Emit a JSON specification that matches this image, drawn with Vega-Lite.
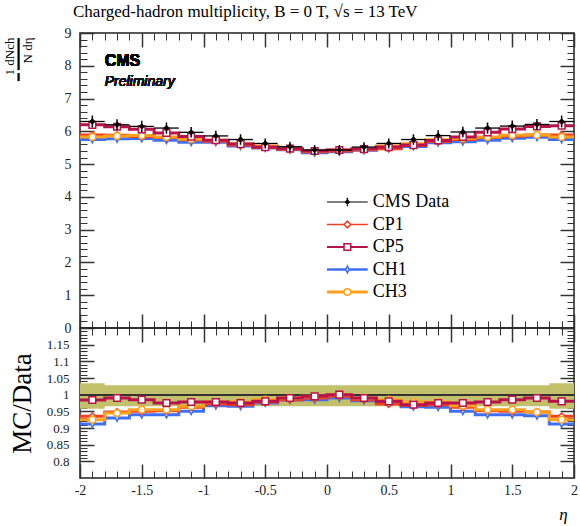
{
  "$schema": "https://vega.github.io/schema/vega-lite/v6.json",
  "background": "white",
  "padding": {"left": 2, "top": 2, "right": 12, "bottom": 5},
  "config": {
    "view": {"stroke": "#222", "strokeWidth": 1.5},
    "axis": {"domain": false, "grid": false, "labelFont": "Liberation Serif", "labelFontSize": 13, "labelColor": "#222", "tickColor": "#333", "titleFont": "Liberation Serif", "titleFontWeight": "normal", "titleColor": "#000", "labelFlush": false, "labelOverlap": false}
  },
  "datasets": {
    "main": [
      {"lo": -2.0, "hi": -1.8, "eta": -1.9, "d": 6.30, "dlo": 6.12, "dhi": 6.48, "CP1": 5.89, "CP5": 6.20, "CH1": 5.75, "CH3": 5.83},
      {"lo": -1.8, "hi": -1.6, "eta": -1.7, "d": 6.20, "dlo": 6.03, "dhi": 6.37, "CP1": 5.88, "CP5": 6.14, "CH1": 5.77, "CH3": 5.86},
      {"lo": -1.6, "hi": -1.4, "eta": -1.5, "d": 6.15, "dlo": 5.98, "dhi": 6.32, "CP1": 5.84, "CP5": 6.06, "CH1": 5.78, "CH3": 5.87},
      {"lo": -1.4, "hi": -1.2, "eta": -1.3, "d": 6.10, "dlo": 5.93, "dhi": 6.27, "CP1": 5.81, "CP5": 5.95, "CH1": 5.73, "CH3": 5.83},
      {"lo": -1.2, "hi": -1.0, "eta": -1.1, "d": 5.97, "dlo": 5.81, "dhi": 6.13, "CP1": 5.74, "CP5": 5.84, "CH1": 5.67, "CH3": 5.76},
      {"lo": -1.0, "hi": -0.8, "eta": -0.9, "d": 5.86, "dlo": 5.70, "dhi": 6.02, "CP1": 5.70, "CP5": 5.73, "CH1": 5.67, "CH3": 5.73},
      {"lo": -0.8, "hi": -0.6, "eta": -0.7, "d": 5.75, "dlo": 5.59, "dhi": 5.91, "CP1": 5.58, "CP5": 5.61, "CH1": 5.55, "CH3": 5.62},
      {"lo": -0.6, "hi": -0.4, "eta": -0.5, "d": 5.63, "dlo": 5.48, "dhi": 5.78, "CP1": 5.51, "CP5": 5.52, "CH1": 5.49, "CH3": 5.55},
      {"lo": -0.4, "hi": -0.2, "eta": -0.3, "d": 5.53, "dlo": 5.38, "dhi": 5.68, "CP1": 5.45, "CP5": 5.47, "CH1": 5.44, "CH3": 5.47},
      {"lo": -0.2, "hi": 0.0, "eta": -0.1, "d": 5.43, "dlo": 5.28, "dhi": 5.58, "CP1": 5.38, "CP5": 5.40, "CH1": 5.35, "CH3": 5.40},
      {"lo": 0.0, "hi": 0.2, "eta": 0.1, "d": 5.43, "dlo": 5.28, "dhi": 5.58, "CP1": 5.40, "CP5": 5.43, "CH1": 5.38, "CH3": 5.43},
      {"lo": 0.2, "hi": 0.4, "eta": 0.3, "d": 5.52, "dlo": 5.37, "dhi": 5.67, "CP1": 5.44, "CP5": 5.46, "CH1": 5.42, "CH3": 5.46},
      {"lo": 0.4, "hi": 0.6, "eta": 0.5, "d": 5.63, "dlo": 5.48, "dhi": 5.78, "CP1": 5.47, "CP5": 5.52, "CH1": 5.49, "CH3": 5.55},
      {"lo": 0.6, "hi": 0.8, "eta": 0.7, "d": 5.75, "dlo": 5.59, "dhi": 5.91, "CP1": 5.57, "CP5": 5.58, "CH1": 5.54, "CH3": 5.62},
      {"lo": 0.8, "hi": 1.0, "eta": 0.9, "d": 5.87, "dlo": 5.71, "dhi": 6.03, "CP1": 5.69, "CP5": 5.72, "CH1": 5.65, "CH3": 5.74},
      {"lo": 1.0, "hi": 1.2, "eta": 1.1, "d": 5.98, "dlo": 5.82, "dhi": 6.14, "CP1": 5.75, "CP5": 5.83, "CH1": 5.68, "CH3": 5.78},
      {"lo": 1.2, "hi": 1.4, "eta": 1.3, "d": 6.10, "dlo": 5.93, "dhi": 6.27, "CP1": 5.81, "CP5": 5.97, "CH1": 5.73, "CH3": 5.83},
      {"lo": 1.4, "hi": 1.6, "eta": 1.5, "d": 6.16, "dlo": 5.99, "dhi": 6.33, "CP1": 5.85, "CP5": 6.07, "CH1": 5.79, "CH3": 5.88},
      {"lo": 1.6, "hi": 1.8, "eta": 1.7, "d": 6.21, "dlo": 6.04, "dhi": 6.38, "CP1": 5.89, "CP5": 6.15, "CH1": 5.82, "CH3": 5.89},
      {"lo": 1.8, "hi": 2.0, "eta": 1.9, "d": 6.30, "dlo": 6.12, "dhi": 6.48, "CP1": 5.89, "CP5": 6.17, "CH1": 5.75, "CH3": 5.83},
      {"lo": 2.0, "CP1": 5.89, "CP5": 6.17, "CH1": 5.75, "CH3": 5.83}
    ],
    "ratio": [
      {"lo": -2.0, "eta": -1.9, "blo": 0.958, "bhi": 1.034, "CP1": 0.935, "CP5": 0.984, "CH1": 0.912, "CH3": 0.925},
      {"lo": -1.8, "eta": -1.7, "blo": 0.965, "bhi": 1.028, "CP1": 0.948, "CP5": 0.990, "CH1": 0.930, "CH3": 0.945},
      {"lo": -1.6, "eta": -1.5, "blo": 0.965, "bhi": 1.028, "CP1": 0.950, "CP5": 0.985, "CH1": 0.940, "CH3": 0.955},
      {"lo": -1.4, "eta": -1.3, "blo": 0.965, "bhi": 1.028, "CP1": 0.952, "CP5": 0.975, "CH1": 0.940, "CH3": 0.955},
      {"lo": -1.2, "eta": -1.1, "blo": 0.965, "bhi": 1.028, "CP1": 0.962, "CP5": 0.978, "CH1": 0.950, "CH3": 0.965},
      {"lo": -1.0, "eta": -0.9, "blo": 0.965, "bhi": 1.028, "CP1": 0.972, "CP5": 0.978, "CH1": 0.967, "CH3": 0.978},
      {"lo": -0.8, "eta": -0.7, "blo": 0.965, "bhi": 1.028, "CP1": 0.970, "CP5": 0.975, "CH1": 0.965, "CH3": 0.978},
      {"lo": -0.6, "eta": -0.5, "blo": 0.965, "bhi": 1.028, "CP1": 0.978, "CP5": 0.980, "CH1": 0.975, "CH3": 0.985},
      {"lo": -0.4, "eta": -0.3, "blo": 0.965, "bhi": 1.028, "CP1": 0.985, "CP5": 0.990, "CH1": 0.984, "CH3": 0.990},
      {"lo": -0.2, "eta": -0.1, "blo": 0.965, "bhi": 1.028, "CP1": 0.990, "CP5": 0.995, "CH1": 0.985, "CH3": 0.995},
      {"lo": 0.0, "eta": 0.1, "blo": 0.965, "bhi": 1.028, "CP1": 0.995, "CP5": 1.000, "CH1": 0.990, "CH3": 1.000},
      {"lo": 0.2, "eta": 0.3, "blo": 0.965, "bhi": 1.028, "CP1": 0.985, "CP5": 0.990, "CH1": 0.982, "CH3": 0.990},
      {"lo": 0.4, "eta": 0.5, "blo": 0.965, "bhi": 1.028, "CP1": 0.972, "CP5": 0.980, "CH1": 0.975, "CH3": 0.985},
      {"lo": 0.6, "eta": 0.7, "blo": 0.965, "bhi": 1.028, "CP1": 0.968, "CP5": 0.970, "CH1": 0.964, "CH3": 0.978},
      {"lo": 0.8, "eta": 0.9, "blo": 0.965, "bhi": 1.028, "CP1": 0.970, "CP5": 0.975, "CH1": 0.962, "CH3": 0.978},
      {"lo": 1.0, "eta": 1.1, "blo": 0.965, "bhi": 1.028, "CP1": 0.962, "CP5": 0.975, "CH1": 0.950, "CH3": 0.967},
      {"lo": 1.2, "eta": 1.3, "blo": 0.965, "bhi": 1.028, "CP1": 0.952, "CP5": 0.978, "CH1": 0.940, "CH3": 0.955},
      {"lo": 1.4, "eta": 1.5, "blo": 0.965, "bhi": 1.028, "CP1": 0.950, "CP5": 0.985, "CH1": 0.940, "CH3": 0.955},
      {"lo": 1.6, "eta": 1.7, "blo": 0.965, "bhi": 1.028, "CP1": 0.948, "CP5": 0.990, "CH1": 0.937, "CH3": 0.948},
      {"lo": 1.8, "eta": 1.9, "blo": 0.958, "bhi": 1.034, "CP1": 0.935, "CP5": 0.980, "CH1": 0.912, "CH3": 0.925},
      {"lo": 2.0, "blo": 0.958, "bhi": 1.034, "CP1": 0.935, "CP5": 0.980, "CH1": 0.912, "CH3": 0.925}
    ],
    "legend": [
      {"series": "CMS Data"}, {"series": "CP1"}, {"series": "CP5"}, {"series": "CH1"}, {"series": "CH3"}
    ]
  },
  "spacing": 0,
  "bounds": "flush",
  "vconcat": [
    {
      "width": 494,
      "height": 295,
      "title": {"text": "Charged-hadron multiplicity, B = 0 T, √s = 13 TeV", "anchor": "start", "frame": "group", "dx": -7, "font": "Liberation Serif", "fontSize": 17, "fontWeight": "normal", "color": "#000", "baseline": "alphabetic", "offset": -8},
      "layer": [
        {
          "data": {"name": "main"},
          "layer": [
            {
              "transform": [{"fold": ["CH1", "CP1", "CH3", "CP5"], "as": ["series", "val"]}],
              "mark": {"type": "line", "interpolate": "step-after", "strokeWidth": 3},
              "encoding": {
                "x": {"field": "lo", "type": "quantitative", "scale": {"domain": [-2, 2]}, "axis": {"orient": "bottom", "values": [-2, -1.5, -1, -0.5, 0, 0.5, 1, 1.5, 2], "tickSize": -14, "tickWidth": 1.5, "labels": false, "title": null}},
                "y": {"field": "val", "type": "quantitative", "scale": {"domain": [0, 9]}, "axis": {"orient": "left", "values": [0, 1, 2, 3, 4, 5, 6, 7, 8, 9], "format": "d", "tickSize": -14, "tickWidth": 1.5, "labelPadding": 23, "labelFontSize": 14, "title": ["1   dNch", "━  ━━━━", "N       dη"], "titleFontSize": 13, "titleLineHeight": 9, "titleX": -67, "titleY": 4, "titleAnchor": "end", "titleBaseline": "alphabetic"}},
                "stroke": {"field": "series", "type": "nominal", "scale": {"domain": ["CMS Data", "CP1", "CP5", "CH1", "CH3"], "range": ["#000000", "#f0401f", "#b8124a", "#3f6ff2", "#ffa01c"]}, "legend": null}
              }
            },
            {
              "transform": [{"filter": "isValid(datum.eta)"}, {"fold": ["CH1", "CP1", "CH3", "CP5"], "as": ["series", "val"]}],
              "mark": {"type": "point", "filled": true, "fill": "white", "strokeWidth": 1.5, "size": 45, "opacity": 1},
              "encoding": {
                "x": {"field": "eta", "type": "quantitative", "axis": {"orient": "bottom", "values": [-2,-1.9,-1.8,-1.7,-1.6,-1.5,-1.4,-1.3,-1.2,-1.1,-1,-0.9,-0.8,-0.7,-0.6,-0.5,-0.4,-0.3,-0.2,-0.1,0,0.1,0.2,0.3,0.4,0.5,0.6,0.7,0.8,0.9,1,1.1,1.2,1.3,1.4,1.5,1.6,1.7,1.8,1.9,2], "tickSize": -7, "labels": false, "title": null}},
                "y": {"field": "val", "type": "quantitative", "axis": {"orient": "left", "values": [0,0.2,0.4,0.6,0.8,1,1.2,1.4,1.6,1.8,2,2.2,2.4,2.6,2.8,3,3.2,3.4,3.6,3.8,4,4.2,4.4,4.6,4.8,5,5.2,5.4,5.6,5.8,6,6.2,6.4,6.6,6.8,7,7.2,7.4,7.6,7.8,8,8.2,8.4,8.6,8.8,9], "tickSize": -7, "labels": false, "title": null}},
                "stroke": {"field": "series", "type": "nominal", "legend": null},
                "shape": {"field": "series", "type": "nominal", "scale": {"domain": ["CMS Data", "CP1", "CP5", "CH1", "CH3"], "range": ["M0,-1.3V1.3M-0.5,0L0,-0.55L0.5,0L0,0.55Z", "diamond", "square", "M0,-1L0.5,0L0,1L-0.5,0Z", "circle"]}, "legend": null}
              }
            },
            {
              "transform": [{"filter": "isValid(datum.eta)"}],
              "mark": {"type": "rule", "color": "#000", "strokeWidth": 1.3},
              "encoding": {
                "x": {"field": "lo", "type": "quantitative", "axis": {"orient": "top", "values": [-2, -1.5, -1, -0.5, 0, 0.5, 1, 1.5, 2], "tickSize": -14, "tickWidth": 1.5, "labels": false, "title": null}},
                "x2": {"field": "hi"},
                "y": {"field": "d", "type": "quantitative", "axis": {"orient": "right", "values": [0, 1, 2, 3, 4, 5, 6, 7, 8, 9], "tickSize": -14, "tickWidth": 1.5, "labels": false, "title": null}}
              }
            },
            {
              "transform": [{"filter": "isValid(datum.eta)"}],
              "mark": {"type": "rule", "color": "#000", "strokeWidth": 1.5},
              "encoding": {
                "x": {"field": "eta", "type": "quantitative", "axis": {"orient": "top", "values": [-2,-1.9,-1.8,-1.7,-1.6,-1.5,-1.4,-1.3,-1.2,-1.1,-1,-0.9,-0.8,-0.7,-0.6,-0.5,-0.4,-0.3,-0.2,-0.1,0,0.1,0.2,0.3,0.4,0.5,0.6,0.7,0.8,0.9,1,1.1,1.2,1.3,1.4,1.5,1.6,1.7,1.8,1.9,2], "tickSize": -7, "labels": false, "title": null}},
                "y": {"field": "dlo", "type": "quantitative", "axis": {"orient": "right", "values": [0,0.2,0.4,0.6,0.8,1,1.2,1.4,1.6,1.8,2,2.2,2.4,2.6,2.8,3,3.2,3.4,3.6,3.8,4,4.2,4.4,4.6,4.8,5,5.2,5.4,5.6,5.8,6,6.2,6.4,6.6,6.8,7,7.2,7.4,7.6,7.8,8,8.2,8.4,8.6,8.8,9], "tickSize": -7, "labels": false, "title": null}},
                "y2": {"field": "dhi"}
              }
            },
            {
              "transform": [{"filter": "isValid(datum.eta)"}],
              "mark": {"type": "point", "shape": "diamond", "filled": true, "color": "#000", "size": 40, "opacity": 1},
              "encoding": {
                "x": {"field": "eta", "type": "quantitative", "axis": null},
                "y": {"field": "d", "type": "quantitative", "axis": null}
              }
            },
            {
              "mark": {"type": "text", "text": "CMS", "align": "left", "baseline": "alphabetic", "font": "Liberation Sans", "fontWeight": "bold", "fontSize": 16, "color": "#000"},
              "encoding": {
                "x": {"datum": -1.8, "axis": null},
                "y": {"datum": 7.98, "axis": null}
              }
            },
            {
              "mark": {"type": "text", "text": "Preliminary", "align": "left", "baseline": "alphabetic", "font": "Liberation Sans", "fontStyle": "italic", "fontWeight": "normal", "fontSize": 14, "color": "#111"},
              "encoding": {
                "x": {"datum": -1.8, "axis": null},
                "y": {"datum": 7.39, "axis": null}
              }
            }
          ],
          "resolve": {"axis": {"x": "independent", "y": "independent"}}
        },
        {
          "data": {"name": "legend"},
          "encoding": {
            "y": {"field": "series", "type": "nominal", "scale": {"type": "point", "domain": ["CMS Data", "CP1", "CP5", "CH1", "CH3"], "range": [169, 259], "padding": 0}, "axis": null}
          },
          "layer": [
            {
              "mark": {"type": "rule"},
              "encoding": {
                "x": {"datum": 0.0, "axis": null},
                "x2": {"datum": 0.33},
                "stroke": {"field": "series", "type": "nominal", "legend": null},
                "strokeWidth": {"field": "series", "type": "ordinal", "scale": {"domain": ["CMS Data", "CP1", "CP5", "CH1", "CH3"], "range": [1.2, 3, 3, 3, 3]}, "legend": null}
              }
            },
            {
              "mark": {"type": "point", "filled": true, "strokeWidth": 1.5, "size": 45, "opacity": 1},
              "encoding": {
                "x": {"datum": 0.165, "axis": null},
                "stroke": {"field": "series", "type": "nominal", "legend": null},
                "shape": {"field": "series", "type": "nominal", "legend": null},
                "fill": {"field": "series", "type": "nominal", "scale": {"domain": ["CMS Data", "CP1", "CP5", "CH1", "CH3"], "range": ["#000000", "#ffffff", "#ffffff", "#ffffff", "#ffffff"]}, "legend": null}
              }
            },
            {
              "mark": {"type": "text", "align": "left", "baseline": "middle", "font": "Liberation Serif", "fontSize": 18, "color": "#000"},
              "encoding": {
                "x": {"datum": 0.37, "axis": null},
                "text": {"field": "series"}
              }
            }
          ]
        }
      ],
      "resolve": {"scale": {"y": "independent"}, "axis": {"x": "independent", "y": "independent"}}
    },
    {
      "width": 494,
      "height": 150,
      "data": {"name": "ratio"},
      "layer": [
        {
          "mark": {"type": "area", "interpolate": "step-after", "color": "#c3c06b", "opacity": 1},
          "encoding": {
            "x": {"field": "lo", "type": "quantitative", "scale": {"domain": [-2, 2]}, "axis": {"orient": "bottom", "values": [-2, -1.5, -1, -0.5, 0, 0.5, 1, 1.5, 2], "labelExpr": "replace(format(datum.value, '.1~f'), '\u2212', '-')", "tickSize": -14, "tickWidth": 1.5, "labelPadding": 19, "labelFontSize": 14, "title": "η", "titleFontStyle": "italic", "titleFontSize": 17, "titleX": 483, "titleY": 41, "titleAlign": "center", "titleBaseline": "alphabetic"}},
            "y": {"field": "blo", "type": "quantitative", "scale": {"domain": [0.793, 1.2]}, "axis": {"orient": "left", "values": [0.8, 0.85, 0.9, 0.95, 1, 1.05, 1.1, 1.15], "format": ".2~f", "tickSize": -14, "tickWidth": 1.5, "labelPadding": 25, "labelFontSize": 13, "title": "MC/Data", "titleFontSize": 27, "titleX": -50, "titleBaseline": "alphabetic"}},
            "y2": {"field": "bhi"}
          }
        },
        {
          "mark": {"type": "rule", "color": "#333", "strokeWidth": 1},
          "encoding": {
            "x": {"datum": -2, "axis": {"orient": "top", "values": [-2,-1.9,-1.8,-1.7,-1.6,-1.5,-1.4,-1.3,-1.2,-1.1,-1,-0.9,-0.8,-0.7,-0.6,-0.5,-0.4,-0.3,-0.2,-0.1,0,0.1,0.2,0.3,0.4,0.5,0.6,0.7,0.8,0.9,1,1.1,1.2,1.3,1.4,1.5,1.6,1.7,1.8,1.9,2], "tickSize": -7, "labels": false, "title": null}},
            "x2": {"datum": 2},
            "y": {"datum": 1, "axis": {"orient": "right", "values": [0.8,0.81,0.82,0.83,0.84,0.85,0.86,0.87,0.88,0.89,0.9,0.91,0.92,0.93,0.94,0.95,0.96,0.97,0.98,0.99,1,1.01,1.02,1.03,1.04,1.05,1.06,1.07,1.08,1.09,1.1,1.11,1.12,1.13,1.14,1.15,1.16,1.17,1.18,1.19,1.2], "tickSize": -7, "labels": false, "title": null}}
          }
        },
        {
          "transform": [{"fold": ["CH1", "CP1", "CH3", "CP5"], "as": ["series", "val"]}],
          "mark": {"type": "line", "interpolate": "step-after", "strokeWidth": 3},
          "encoding": {
            "x": {"field": "lo", "type": "quantitative", "axis": {"orient": "bottom", "values": [-2,-1.9,-1.8,-1.7,-1.6,-1.5,-1.4,-1.3,-1.2,-1.1,-1,-0.9,-0.8,-0.7,-0.6,-0.5,-0.4,-0.3,-0.2,-0.1,0,0.1,0.2,0.3,0.4,0.5,0.6,0.7,0.8,0.9,1,1.1,1.2,1.3,1.4,1.5,1.6,1.7,1.8,1.9,2], "tickSize": -7, "labels": false, "title": null}},
            "y": {"field": "val", "type": "quantitative", "axis": {"orient": "left", "values": [0.8,0.81,0.82,0.83,0.84,0.85,0.86,0.87,0.88,0.89,0.9,0.91,0.92,0.93,0.94,0.95,0.96,0.97,0.98,0.99,1,1.01,1.02,1.03,1.04,1.05,1.06,1.07,1.08,1.09,1.1,1.11,1.12,1.13,1.14,1.15,1.16,1.17,1.18,1.19,1.2], "tickSize": -7, "labels": false, "title": null}},
            "stroke": {"field": "series", "type": "nominal", "legend": null}
          }
        },
        {
          "transform": [{"filter": "isValid(datum.eta)"}, {"fold": ["CH1", "CP1", "CH3", "CP5"], "as": ["series", "val"]}],
          "mark": {"type": "point", "filled": true, "fill": "white", "strokeWidth": 1.5, "size": 45, "opacity": 1},
          "encoding": {
            "x": {"field": "eta", "type": "quantitative", "axis": {"orient": "top", "values": [-2, -1.5, -1, -0.5, 0, 0.5, 1, 1.5, 2], "tickSize": -14, "tickWidth": 1.5, "labels": false, "title": null}},
            "y": {"field": "val", "type": "quantitative", "axis": {"orient": "right", "values": [0.8, 0.85, 0.9, 0.95, 1, 1.05, 1.1, 1.15, 1.2], "tickSize": -14, "tickWidth": 1.5, "labels": false, "title": null}},
            "stroke": {"field": "series", "type": "nominal", "legend": null},
            "shape": {"field": "series", "type": "nominal", "legend": null}
          }
        }
      ],
      "resolve": {"axis": {"x": "independent", "y": "independent"}}
    }
  ]
}
